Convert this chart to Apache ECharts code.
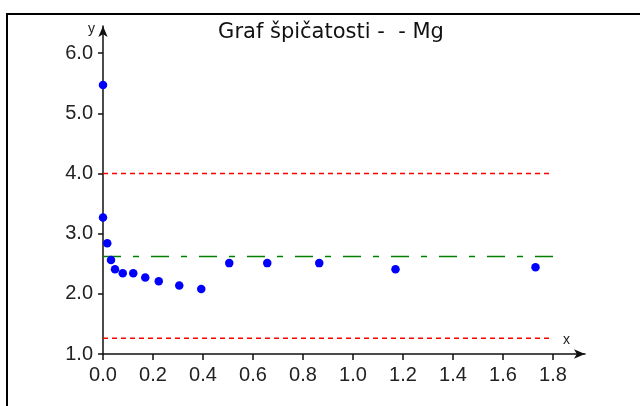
<!DOCTYPE html>
<html>
<head>
<meta charset="utf-8">
<script src="https://cdn.jsdelivr.net/npm/echarts@6/dist/echarts.min.js"></script>
<style>
html,body{margin:0;padding:0;background:#fff;}
#chart{width:640px;height:406px;}
</style>
</head>
<body>
<div id="chart"></div>
<script>
var titleText = 'Graf špičatosti -  - Mg';
var xValues = [0, 0, 0.017, 0.032, 0.048, 0.079, 0.121, 0.169, 0.223, 0.305, 0.393, 0.505, 0.657, 0.865, 1.17, 1.73];
var yValues = [5.47, 3.27, 2.84, 2.56, 2.41, 2.34, 2.34, 2.27, 2.21, 2.14, 2.08, 2.51, 2.51, 2.51, 2.41, 2.44];
var upperLimit = 4.0;
var lowerLimit = 1.26;
var centerLine = 2.62;
var lineXRange = [0, 1.8];
var xTicks = [0, 0.2, 0.4, 0.6, 0.8, 1.0, 1.2, 1.4, 1.6, 1.8];
var yTicks = [1, 2, 3, 4, 5, 6];

var pts = xValues.map(function (x, i) { return [x, yValues[i]]; });
function hline(v) { return [[lineXRange[0], v], [lineXRange[1], v]]; }

var axisColor = '#111';
var labelFont = {fontFamily: 'Liberation Sans', fontSize: 20, color: '#222'};

var chart = echarts.init(document.getElementById('chart'), null, {renderer: 'canvas'});
chart.setOption({
  animation: false,
  backgroundColor: '#fff',
  title: {
    text: titleText,
    left: 326,
    textAlign: 'center',
    top: 17,
    textStyle: {fontFamily: 'DejaVu Sans', fontSize: 21, fontWeight: 'normal', color: '#111'}
  },
  graphic: [{
    type: 'rect',
    shape: {x: 7, y: 14, width: 700, height: 500},
    style: {fill: 'none', stroke: '#000', lineWidth: 2},
    silent: true
  }],
  grid: {left: 103, top: 26, width: 482, height: 328, containLabel: false},
  xAxis: {
    type: 'value',
    min: 0,
    max: 1.928,
    name: 'x',
    nameLocation: 'end',
    nameGap: -22,
    nameTextStyle: {fontFamily: 'Liberation Sans', fontSize: 14, color: '#222', align: 'left', verticalAlign: 'bottom', padding: [0, 0, 7, 0]},
    axisLine: {onZero: false, symbol: ['none', 'arrow'], symbolSize: [7, 11], lineStyle: {color: axisColor, width: 1.5}},
    axisTick: {show: true, length: 6, customValues: xTicks, lineStyle: {color: axisColor, width: 1.5}},
    axisLabel: Object.assign({margin: 11, customValues: xTicks, formatter: function (v) { return v.toFixed(1); }}, labelFont),
    splitLine: {show: false}
  },
  yAxis: {
    type: 'value',
    min: 1,
    max: 6.45,
    name: 'y',
    nameLocation: 'end',
    nameGap: -3,
    nameTextStyle: {fontFamily: 'Liberation Sans', fontSize: 14, color: '#222', align: 'right', verticalAlign: 'middle', padding: [0, 8, 0, 0]},
    axisLine: {show: true, onZero: false, symbol: ['none', 'arrow'], symbolSize: [7, 11], lineStyle: {color: axisColor, width: 1.5}},
    axisTick: {show: true, length: 5, customValues: yTicks, lineStyle: {color: axisColor, width: 1.5}},
    axisLabel: Object.assign({margin: 10, customValues: yTicks, formatter: function (v) { return v.toFixed(1); }}, labelFont),
    splitLine: {show: false}
  },
  series: [
    {type: 'line', data: hline(upperLimit), symbol: 'none', silent: true,
     lineStyle: {color: '#ff0000', width: 1.5, type: [5, 4]}},
    {type: 'line', data: hline(lowerLimit), symbol: 'none', silent: true,
     lineStyle: {color: '#ff0000', width: 1.5, type: [5, 4]}},
    {type: 'line', data: hline(centerLine), symbol: 'none', silent: true,
     lineStyle: {color: '#008000', width: 1.5, type: [18, 12, 6, 12]}},
    {type: 'scatter', data: pts, symbol: 'circle', symbolSize: 8.5, clip: false,
     itemStyle: {color: '#0000ff', opacity: 1}, z: 5}
  ]
});
</script>
</body>
</html>
